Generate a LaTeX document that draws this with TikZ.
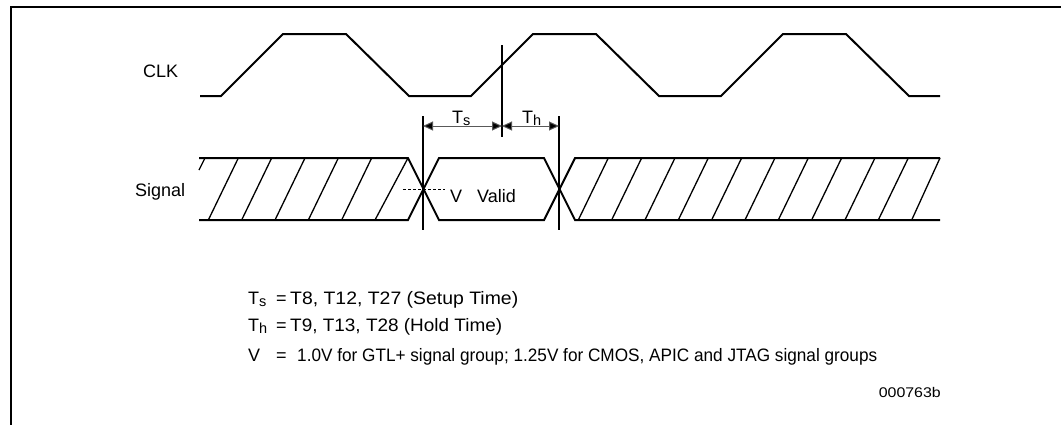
\documentclass[tikz,border=0pt]{standalone}
\usepackage{fontspec}
\usepackage{graphicx}
\setmainfont{Liberation Sans}
\usetikzlibrary{arrows.meta}
\newcommand\lowsub[1]{\raisebox{-0.3ex}{\fontsize{14.5}{14.5}\selectfont #1}}
\begin{document}
\begin{tikzpicture}[x=1pt,y=-1pt,
  wave/.style={line width=2pt, line join=miter},
  hatch/.style={line width=1.3pt},
  marker/.style={line width=1.5pt},
  dimline/.style={line width=1pt, draw=black!65,
    {Triangle[length=10pt,width=9pt,fill=black]}-{Triangle[length=10pt,width=9pt,fill=black]}},
  lbl/.style={font=\fontsize{18}{21}\selectfont, inner sep=0pt, anchor=base west},
  small/.style={font=\fontsize{14}{16}\selectfont, inner sep=0pt, anchor=base east},
  vref/.style={line width=1pt, dash pattern=on 3pt off 2pt}]
\useasboundingbox (0,0) rectangle (1061,424);
% frame
\draw[line width=2.5pt] (11,426) -- (11,7) -- (1063,7);
% clock
\draw[wave] (200,96) -- (221,96) -- (283,34) -- (346,34) -- (409,96) -- (471,96)
  -- (533,34) -- (596,34) -- (659,96) -- (721,96) -- (783,34) -- (846,34)
  -- (909,96) -- (940,96);
% signal band
\draw[wave] (199,158) -- (408,158) -- (439,220) -- (544,220) -- (575,158) -- (940,158);
\draw[wave] (199,220) -- (408,220) -- (439,158) -- (544,158) -- (575,220) -- (940,220);
% hatching left
\draw[hatch] (199,170) -- (205,158);
\foreach \k in {1,...,5} \draw[hatch] ({175+33.333*\k},220) -- ++(30,-62);
\draw[hatch] (375,220) -- (408,158);
% hatching right
\foreach \k in {0,...,9} \draw[hatch] ({578.3+33.333*\k},220) -- ++(30,-62);
\draw[hatch] (911.7,220) -- (940,158);
% markers
\coordinate (a1) at (423,116); \coordinate (a2) at (423,230);
\coordinate (b1) at (559,116); \coordinate (b2) at (559,230);
\coordinate (c1) at (502,45);  \coordinate (c2) at (502,137);
\draw[marker] (a1) -- (a2);
\draw[marker] (b1) -- (b2);
\draw[marker] (c1) -- (c2);
\coordinate (da) at (423,126); \coordinate (dc) at (502,126); \coordinate (db) at (559,126);
\draw[dimline] (da) -- (dc);
\draw[dimline] (dc) -- (db);
\coordinate (v1) at (403,189); \coordinate (v2) at (445,189);
\draw[vref] (v1) -- (v2);
% labels
\node[lbl] (clk) at (143,77) {CLK};
\node[lbl] (sig) at (135,196) {Signal};
\node[lbl] (vlab) at (450,202) {V};
\node[lbl] (valid) at (477,202) {Valid};
\node[lbl] (tslab) at (452,123) {T\lowsub{s}};
\node[lbl] (thlab) at (522,123) {T\lowsub{h}};
\node[lbl] (tsdef) at (248,304) {\makebox[28pt][l]{T\lowsub{s}}\makebox[14pt][l]{=}\resizebox{228pt}{\height}{T8, T12, T27 (Setup Time)}};
\node[lbl] (thdef) at (248,331) {\makebox[28pt][l]{T\lowsub{h}}\makebox[14pt][l]{=}\resizebox{212pt}{\height}{T9, T13, T28 (Hold Time)}};
\node[lbl] (vdef) at (248,361) {\makebox[28pt][l]{V}\makebox[21pt][l]{=}\resizebox{580pt}{\height}{1.0V for GTL+ signal group; 1.25V for CMOS, APIC and JTAG signal groups}};
\node[small] (code) at (941,397) {\resizebox{62pt}{\height}{000763b}};
\end{tikzpicture}
\end{document}
